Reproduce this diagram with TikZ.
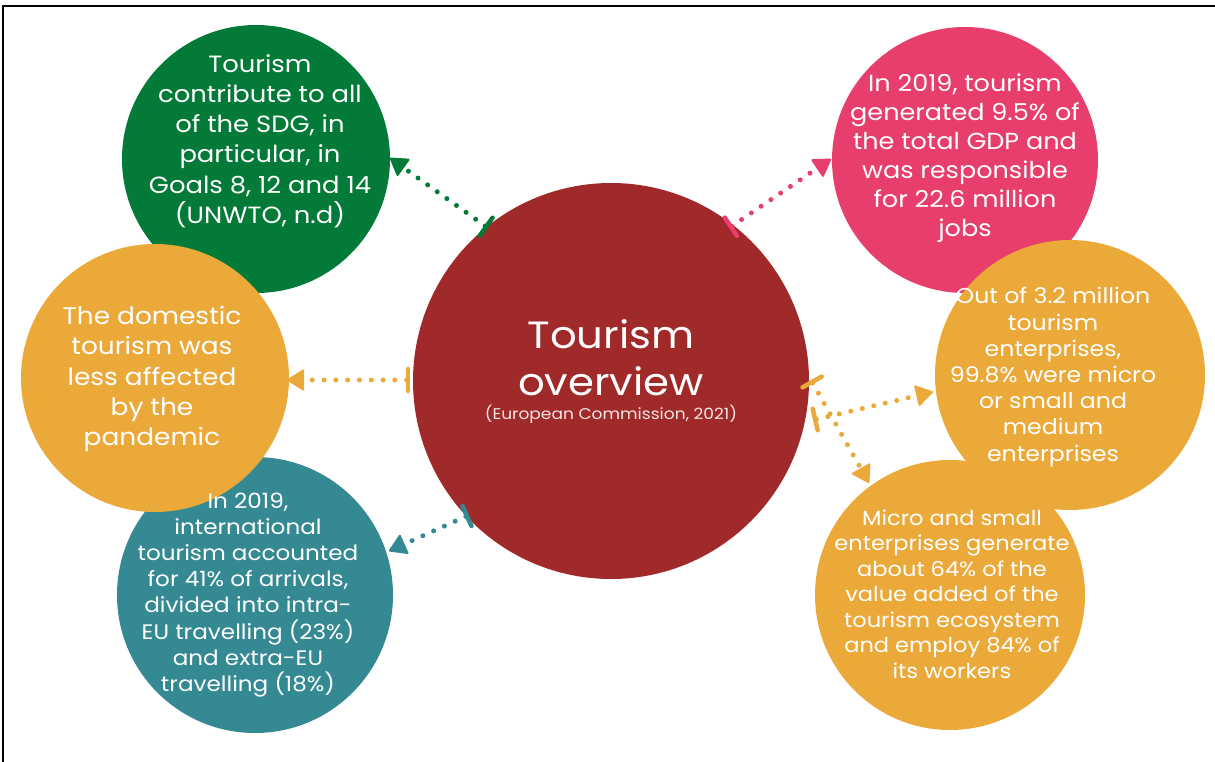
\documentclass[tikz,border=0pt]{standalone}
\usepackage{fontspec}
\setmainfont{Poppins}[FakeStretch=1.1]
\usetikzlibrary{arrows.meta}
\definecolor{cgreen}{RGB}{3,122,56}
\definecolor{cpink}{RGB}{232,62,107}
\definecolor{cred}{RGB}{160,42,41}
\definecolor{corange}{RGB}{235,169,58}
\definecolor{cteal}{RGB}{52,137,146}
\tikzset{
  bubble/.style={circle,inner sep=0pt,text=white,align=center},
  txt/.style={text=white,align=center,inner sep=0pt},
  conn/.style={line width=5pt,line cap=round,dash pattern=on 0pt off 11.8pt,
    {Bar[width=22pt,line width=4.5pt,round]}-{Triangle[length=18pt,width=22pt,round,line width=2pt]}},
}
\begin{document}
\begin{tikzpicture}[x=1pt,y=-1pt]
\useasboundingbox (0,0) rectangle (1215,762);
\draw[line width=2pt] (3,762) -- (3,6) -- (1215,6);
% circles
\node[bubble,fill=cgreen,minimum size=268pt] (green) at (256,159) {};
\node[bubble,fill=cteal,minimum size=276pt] (teal) at (255,595) {};
\node[bubble,fill=corange,minimum size=268pt] (dom) at (155,378) {};
\node[bubble,fill=cpink,minimum size=266pt] (pink) at (965,160) {};
\node[bubble,fill=corange,minimum size=270pt] (ent) at (1070,375) {};
\node[bubble,fill=corange,minimum size=270pt] (micro) at (950,595) {};
\node[bubble,fill=cred,minimum size=396pt] (center) at (611,381) {};
% texts
\node[txt,font=\fontsize{23.5}{30.2}\selectfont] (tgreen) at (260,141) {Tourism\\contribute to all\\of the SDG, in\\particular, in\\Goals 8, 12 and 14\\(UNWTO, n.d)};
\node[txt,font=\fontsize{23.2}{29}\selectfont] (tpink) at (965,158) {In 2019, tourism\\generated 9.5\% of\\the total GDP and\\was responsible\\for 22.6 million\\jobs};
\node[txt,font=\fontsize{24}{30.3}\selectfont] (tdom) at (152,379) {The domestic\\tourism was\\less affected\\by the\\pandemic};
\node[txt,font=\fontsize{21}{26.1}\selectfont] (tteal) at (248,595) {In 2019,\\international\\tourism accounted\\for 41\% of arrivals,\\divided into intra-\\EU travelling (23\%)\\and extra-EU\\travelling (18\%)};
\node[txt,font=\fontsize{21.5}{26.2}\selectfont] (tent) at (1053,377) {Out of 3.2 million\\tourism\\enterprises,\\99.8\% were micro\\or small and\\medium\\enterprises};
\node[txt,font=\fontsize{20.5}{25.5}\selectfont] (tmicro) at (952,594) {Micro and small\\enterprises generate\\about 64\% of the\\value added of the\\tourism ecosystem\\and employ 84\% of\\its workers};
\node[txt,font=\fontsize{38}{47}\selectfont] (ttitle) at (611,358) {Tourism\\overview};
\node[txt,font=\fontsize{15.5}{17}\selectfont,text=white!88!cred] (tcite) at (611,414) {(European Commission, 2021)};
% connector ends
\coordinate (gbar) at (488,228); \coordinate (gtip) at (390,158);
\coordinate (pbar) at (729,228); \coordinate (ptip) at (831,159);
\coordinate (obar) at (410,380); \coordinate (otip) at (287,380);
\coordinate (tbar) at (469,515); \coordinate (ttip) at (389,551);
\coordinate (ebar) at (813,420); \coordinate (etip) at (933,392);
\coordinate (mbar) at (811,380); \coordinate (mtip) at (869,483);
\draw[conn,cgreen] (gbar) -- (gtip);
\draw[conn,cpink] (pbar) -- (ptip);
\draw[conn,corange] (obar) -- (otip);
\draw[conn,cteal] (tbar) -- (ttip);
\draw[conn,corange] (ebar) -- (etip);
\draw[conn,corange] (mbar) -- (mtip);
\end{tikzpicture}
\end{document}
